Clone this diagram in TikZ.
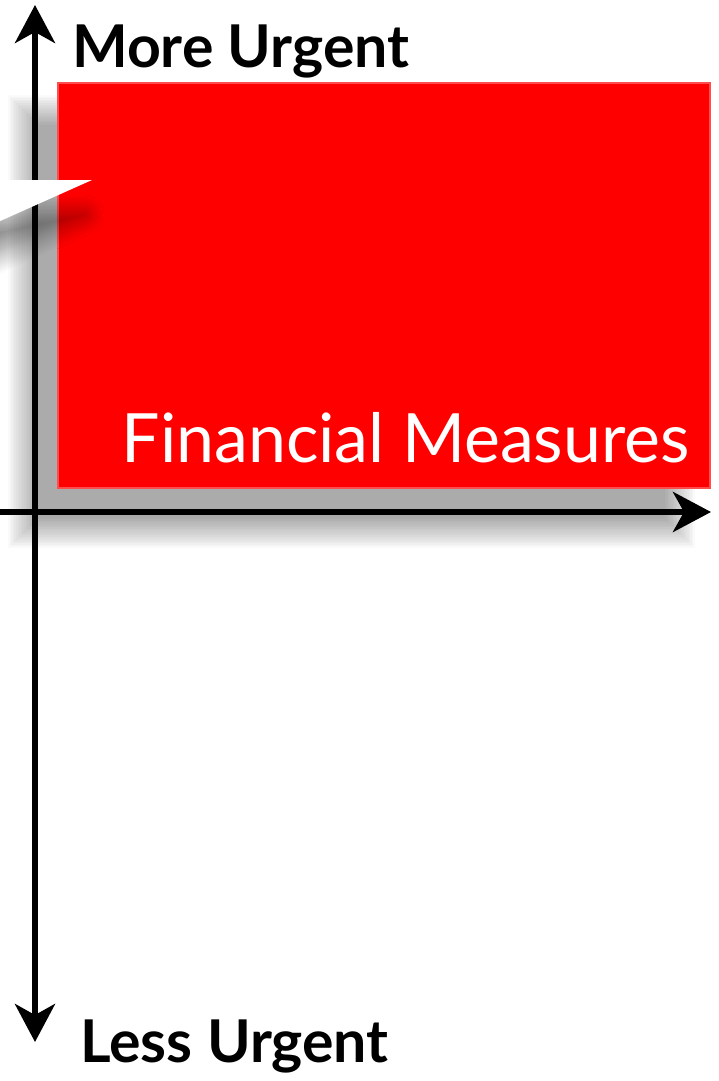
\documentclass[tikz,border=0pt]{standalone}
\usepackage{fontspec}
\setmainfont{Lato}
\usetikzlibrary{arrows.meta,shadows.blur}
\tikzset{
  axisline/.style={line width=6pt, -{Stealth[length=38pt,width=40pt,inset=11pt]}},
  redbox/.style={fill=red, draw=red!70!white, line width=1.5pt},
  shadowlayer/.style={fill=black, opacity=0.018},
  axislabel/.style={font=\bfseries\fontsize{59}{62}\selectfont, inner sep=0pt, anchor=base west},
}
\begin{document}
\begin{tikzpicture}[x=1pt,y=-1pt]
\useasboundingbox (0,0) rectangle (718,1081);
% soft shadow of the red box
\foreach \i in {0,...,19}
  \path[shadowlayer] ({8+\i*1.6},{95+\i*1.6}) rectangle ({695-\i*1.6},{548-\i*1.6});
% red box
\path[redbox] (58,83) rectangle (710,488);
\node[inner sep=0pt, anchor=base east, text=white, font=\fontsize{68}{70}\selectfont] (fin) at (690,462) {Financial Measures};
% axes
\coordinate (o) at (35,512);
\coordinate (top) at (35,5);
\coordinate (bot) at (35,1042);
\coordinate (left) at (0,512);
\coordinate (right) at (711,512);
\draw[axisline] (o) -- (top);
\draw[axisline] (o) -- (bot);
\draw[axisline] (left) -- (right);
% white pointer
\path[fill=white, blur shadow={shadow xshift=-8pt, shadow yshift=-35pt, shadow blur radius=20pt, shadow blur steps=15, shadow opacity=45}]
  (-20,180) -- (92,180) -- (-20,230) -- cycle;
% labels
\node[axislabel] (more) at (72,67) {More Urgent};
\node[axislabel] (less) at (80,1062) {Less Urgent};
\end{tikzpicture}
\end{document}
